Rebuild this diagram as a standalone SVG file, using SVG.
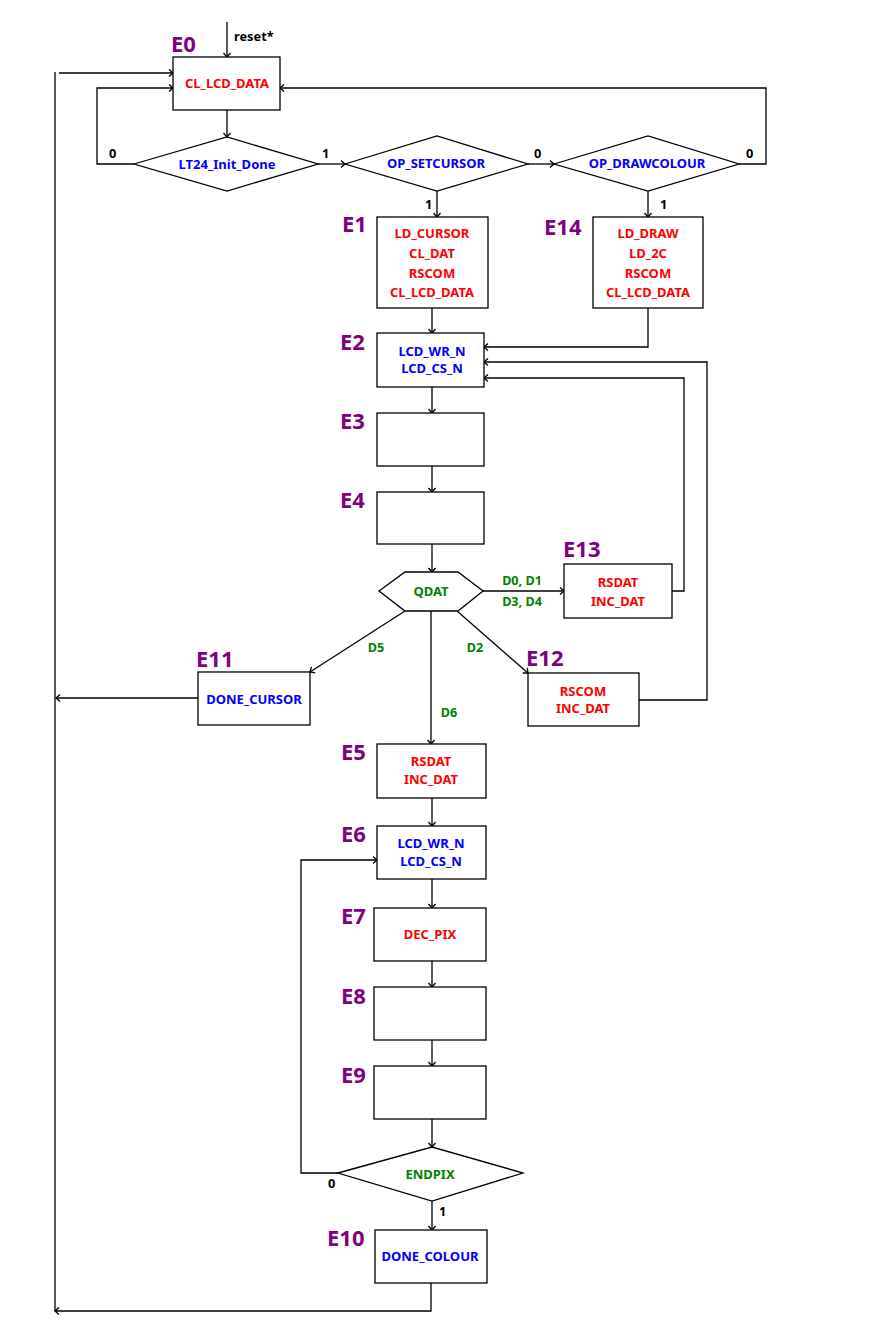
<svg xmlns="http://www.w3.org/2000/svg" width="869" height="1325" viewBox="0 0 869 1325">
<style>
.n{fill:#fff;stroke:#000;stroke-width:1.3}
.c{fill:none;stroke:#000;stroke-width:1.3}
text{font-family:"Noto Sans","Open Sans","DejaVu Sans",sans-serif;font-weight:bold}
.t{font-size:13px;text-anchor:middle;dominant-baseline:central}
.d{font-size:12.6px}
.r{fill:#ff0000}.b{fill:#0000ff}.g{fill:#008000}
.e{font-size:22px;fill:#800080}
.l{font-size:12.8px;fill:#000}
</style>
<defs>
<marker id="a" markerWidth="10" markerHeight="10" refX="8" refY="5" orient="auto" markerUnits="userSpaceOnUse">
<path d="M4,1.5 L8,5 L4,8.5" fill="none" stroke="#000" stroke-width="1.3"/>
</marker>
</defs>
<rect width="869" height="1325" fill="#fff"/>
<g id="connectors">
<path class="c" d="M227,22 V57" marker-end="url(#a)"/>
<path class="c" d="M227,110 V137" marker-end="url(#a)"/>
<path class="c" d="M134,164 H97 V88 H173" marker-end="url(#a)"/>
<path class="c" d="M318,164 H345" marker-end="url(#a)"/>
<path class="c" d="M528,164 H554" marker-end="url(#a)"/>
<path class="c" d="M739,164 H766 V88 H280" marker-end="url(#a)"/>
<path class="c" d="M437,191 V217" marker-end="url(#a)"/>
<path class="c" d="M648,191 V217" marker-end="url(#a)"/>
<path class="c" d="M432,308 V333" marker-end="url(#a)"/>
<path class="c" d="M648,308 V347 H484" marker-end="url(#a)"/>
<path class="c" d="M432,387 V413" marker-end="url(#a)"/>
<path class="c" d="M432,466 V492" marker-end="url(#a)"/>
<path class="c" d="M432,544 V572" marker-end="url(#a)"/>
<path class="c" d="M483,591 H564" marker-end="url(#a)"/>
<path class="c" d="M672,591 H684 V378 H484" marker-end="url(#a)"/>
<path class="c" d="M457,611 L528,673" marker-end="url(#a)"/>
<path class="c" d="M639,700 H707 V362 H484" marker-end="url(#a)"/>
<path class="c" d="M405,611 L310,672" marker-end="url(#a)"/>
<path class="c" d="M198,698 H56" marker-end="url(#a)"/>
<path class="c" d="M431,611 V744" marker-end="url(#a)"/>
<path class="c" d="M432,798 V826" marker-end="url(#a)"/>
<path class="c" d="M432,879 V908" marker-end="url(#a)"/>
<path class="c" d="M432,961 V987" marker-end="url(#a)"/>
<path class="c" d="M432,1040 V1066" marker-end="url(#a)"/>
<path class="c" d="M432,1119 V1147" marker-end="url(#a)"/>
<path class="c" d="M338,1173 H301 V860 H377" marker-end="url(#a)"/>
<path class="c" d="M432,1201 V1230" marker-end="url(#a)"/>
<path class="c" d="M431,1283 V1311 H55" marker-end="url(#a)"/>
<path class="c" d="M55,72 V1311"/>
<path class="c" d="M59,73 H173" marker-end="url(#a)"/>
<text class="l" x="234" y="41">reset*</text>
<text class="l" x="109" y="158">0</text>
<text class="l" x="322" y="158">1</text>
<text class="l" x="534" y="158">0</text>
<text class="l" x="746" y="158">0</text>
<text class="l" x="425" y="209">1</text>
<text class="l" x="660" y="209">1</text>
<text class="t g d" x="522" y="580">D0, D1</text>
<text class="t g d" x="522" y="601">D3, D4</text>
<text class="t g d" x="475" y="647">D2</text>
<text class="t g d" x="376" y="647">D5</text>
<text class="t g d" x="449" y="712">D6</text>
<text class="l" x="328" y="1188">0</text>
<text class="l" x="439" y="1216">1</text>
</g>
<g id="E0">
<text class="e" x="171" y="52">E0</text>
<rect class="n" x="173" y="57" width="107" height="53"/>
<text class="t r" x="227" y="83">CL_LCD_DATA</text>
</g>
<g id="LT24_Init_Done">
<polygon class="n" points="134,164 227,137 318,164 227,191"/>
<text class="t b" x="227" y="164">LT24_Init_Done</text>
</g>
<g id="OP_SETCURSOR">
<polygon class="n" points="345,164 437,136 528,164 437,191"/>
<text class="t b" x="436" y="163">OP_SETCURSOR</text>
</g>
<g id="OP_DRAWCOLOUR">
<polygon class="n" points="554,164 648,136 739,164 648,191"/>
<text class="t b" x="647" y="163">OP_DRAWCOLOUR</text>
</g>
<g id="E1">
<text class="e" x="342" y="232">E1</text>
<rect class="n" x="377" y="217" width="111" height="91"/>
<text class="t r" x="432" y="233">LD_CURSOR</text>
<text class="t r" x="432" y="253">CL_DAT</text>
<text class="t r" x="432" y="273">RSCOM</text>
<text class="t r" x="432" y="292">CL_LCD_DATA</text>
</g>
<g id="E14">
<text class="e" x="544" y="235">E14</text>
<rect class="n" x="593" y="217" width="110" height="91"/>
<text class="t r" x="648" y="233">LD_DRAW</text>
<text class="t r" x="648" y="253">LD_2C</text>
<text class="t r" x="648" y="273">RSCOM</text>
<text class="t r" x="648" y="292">CL_LCD_DATA</text>
</g>
<g id="E2">
<text class="e" x="340" y="350">E2</text>
<rect class="n" x="377" y="333" width="107" height="54"/>
<text class="t b" x="432" y="351">LCD_WR_N</text>
<text class="t b" x="432" y="368">LCD_CS_N</text>
</g>
<g id="E3">
<text class="e" x="340" y="429">E3</text>
<rect class="n" x="377" y="413" width="107" height="53"/>
</g>
<g id="E4">
<text class="e" x="340" y="508">E4</text>
<rect class="n" x="377" y="492" width="107" height="52"/>
</g>
<g id="QDAT">
<polygon class="n" points="379,591 405,572 458,572 483,591 458,611 405,611"/>
<text class="t g" x="431" y="591">QDAT</text>
</g>
<g id="E13">
<text class="e" x="563" y="557">E13</text>
<rect class="n" x="564" y="564" width="108" height="54"/>
<text class="t r" x="618" y="582">RSDAT</text>
<text class="t r" x="618" y="601">INC_DAT</text>
</g>
<g id="E12">
<text class="e" x="526" y="666">E12</text>
<rect class="n" x="528" y="673" width="111" height="53"/>
<text class="t r" x="583" y="691">RSCOM</text>
<text class="t r" x="583" y="708">INC_DAT</text>
</g>
<g id="E11">
<text class="e" x="196" y="667">E11</text>
<rect class="n" x="198" y="672" width="112" height="53"/>
<text class="t b" x="254" y="699">DONE_CURSOR</text>
</g>
<g id="E5">
<text class="e" x="341" y="760">E5</text>
<rect class="n" x="377" y="744" width="109" height="54"/>
<text class="t r" x="431" y="761">RSDAT</text>
<text class="t r" x="431" y="779">INC_DAT</text>
</g>
<g id="E6">
<text class="e" x="341" y="842">E6</text>
<rect class="n" x="377" y="826" width="109" height="53"/>
<text class="t b" x="431" y="843">LCD_WR_N</text>
<text class="t b" x="431" y="861">LCD_CS_N</text>
</g>
<g id="E7">
<text class="e" x="341" y="924">E7</text>
<rect class="n" x="374" y="908" width="112" height="53"/>
<text class="t r" x="430" y="934">DEC_PIX</text>
</g>
<g id="E8">
<text class="e" x="341" y="1004">E8</text>
<rect class="n" x="374" y="987" width="112" height="53"/>
</g>
<g id="E9">
<text class="e" x="341" y="1083">E9</text>
<rect class="n" x="374" y="1066" width="112" height="53"/>
</g>
<g id="ENDPIX">
<polygon class="n" points="338,1173 432,1147 523,1173 432,1201"/>
<text class="t g" x="430" y="1174">ENDPIX</text>
</g>
<g id="E10">
<text class="e" x="327" y="1246">E10</text>
<rect class="n" x="375" y="1230" width="112" height="53"/>
<text class="t b" x="430" y="1256">DONE_COLOUR</text>
</g>
</svg>
